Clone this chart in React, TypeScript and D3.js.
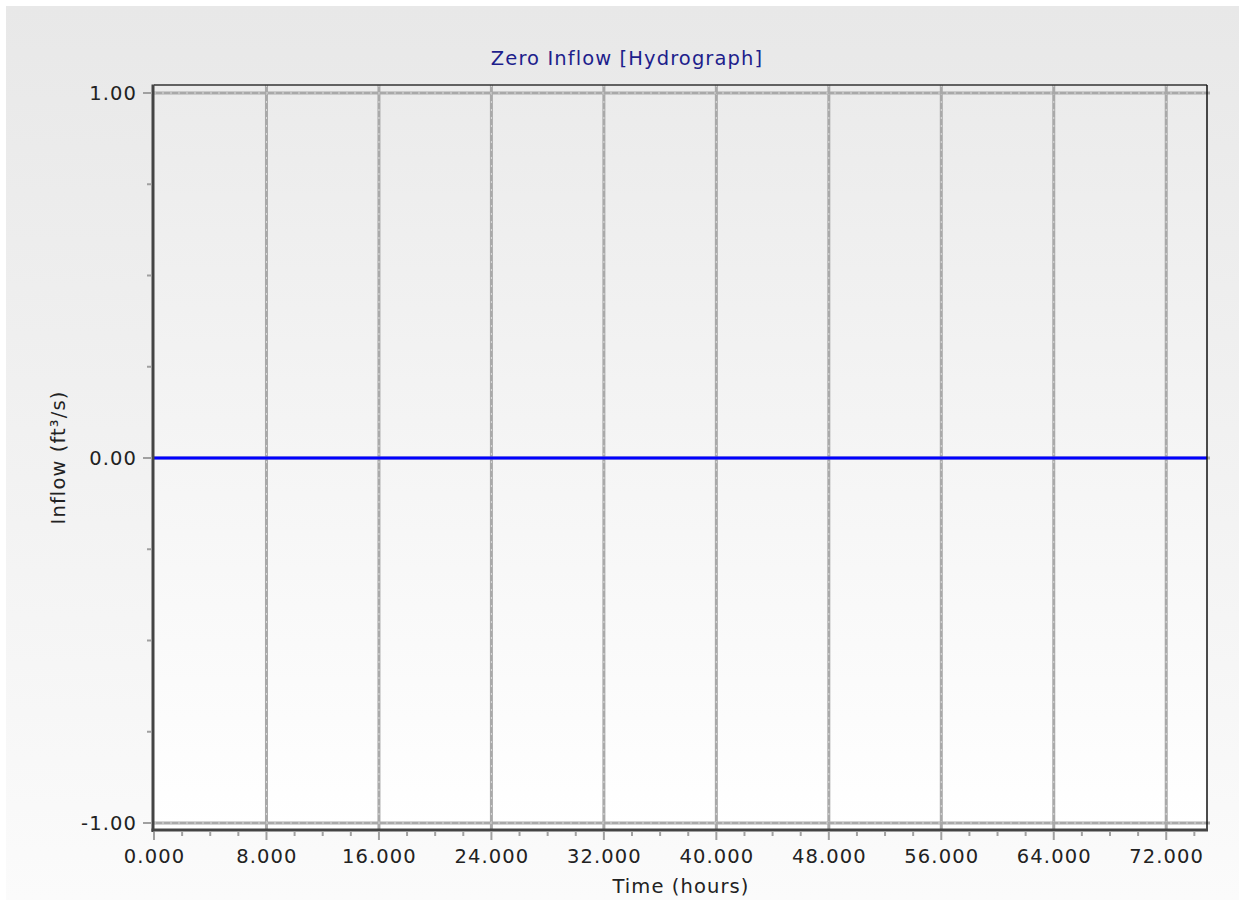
import React from "react";
import * as d3 from "d3";

const chartTitle = "Zero Inflow [Hydrograph]";
const xLabel = "Time (hours)";
const yLabel = "Inflow (ft³/s)";
const timeHours = [0, 8, 16, 24, 32, 40, 48, 56, 64, 72, 74.9];
const inflowCfs = [0, 0, 0, 0, 0, 0, 0, 0, 0, 0, 0];
const xMajorTicks = [0, 8, 16, 24, 32, 40, 48, 56, 64, 72];
const yMajorTicks = [1, 0, -1];
const xDomain = [0, 74.9];
const yDomain = [-1.0192, 1.0219];

const FONT = "Verdana, 'DejaVu Sans', sans-serif";
const FS = 19.5;

const fmtY = (v: number) => (v < 0 ? "-" : "") + Math.abs(v).toFixed(2);
const fmtX = (v: number) => v.toFixed(3);

export default function App() {
  const W = 1239, H = 900;
  const left = 154, right = 1207, top = 85, bottom = 830;
  const x = d3.scaleLinear().domain(xDomain).range([left, right]);
  const y = d3.scaleLinear().domain(yDomain).range([bottom, top]);
  const xMinor = d3.range(0, xDomain[1], 2).filter((v) => v % 8 !== 0);
  const yMinor = d3.range(-1, 1.001, 0.25).filter((v) => Math.abs(v % 1) > 1e-6);
  const line = d3
    .line<number>()
    .x((_, i) => x(timeHours[i]))
    .y((d) => y(d));
  const textStyle = { letterSpacing: "1.1px" } as React.CSSProperties;

  return (
    <svg width={W} height={H} style={{ position: "absolute", left: 0, top: 0 }} fontFamily={FONT}>
      <defs>
        <linearGradient id="bg" x1="0" y1="0" x2="0" y2="1">
          <stop offset="0" stopColor="#e8e8e8" />
          <stop offset="1" stopColor="#fbfbfb" />
        </linearGradient>
        <linearGradient id="plotbg" x1="0" y1="0" x2="0" y2="1">
          <stop offset="0" stopColor="#ebebeb" />
          <stop offset="1" stopColor="#ffffff" />
        </linearGradient>
      </defs>
      <rect x={0} y={0} width={W} height={H} fill="#ffffff" />
      <rect x={6} y={6} width={W - 6} height={H - 6} fill="url(#bg)" />
      <rect x={left} y={top} width={right - left} height={bottom - top} fill="url(#plotbg)" />

      {/* vertical gridlines */}
      {xMajorTicks.filter((t) => t > 0).map((t) => (
        <g key={"vg" + t}>
          <line x1={x(t)} x2={x(t)} y1={top} y2={bottom} stroke="#a9a9a9" strokeWidth={3} />
          <line x1={x(t)} x2={x(t)} y1={top} y2={bottom} stroke="#dadada" strokeWidth={1} strokeDasharray="2,6" />
        </g>
      ))}
      {/* horizontal gridlines */}
      {yMajorTicks.map((t) => (
        <g key={"hg" + t}>
          <line x1={left} x2={right + 3} y1={y(t)} y2={y(t)} stroke="#a9a9a9" strokeWidth={3} />
          <line x1={left} x2={right + 3} y1={y(t)} y2={y(t)} stroke="#dadada" strokeWidth={1} strokeDasharray="2,6" />
        </g>
      ))}

      {/* series */}
      <path d={line(inflowCfs) || ""} fill="none" stroke="#0000ff" strokeWidth={3.2} />

      {/* frame */}
      <line x1={left} x2={right} y1={top} y2={top} stroke="#333" strokeWidth={1.5} />
      <line x1={right} x2={right} y1={top} y2={bottom} stroke="#111" strokeWidth={1.5} />
      <line x1={left - 1} x2={left - 1} y1={top - 0.5} y2={bottom + 2} stroke="#444" strokeWidth={3} />
      <line x1={left - 2.5} x2={right + 1} y1={bottom} y2={bottom} stroke="#444" strokeWidth={3} />

      {/* y ticks */}
      {yMajorTicks.map((t) => (
        <g key={"yt" + t}>
          <line x1={left - 11} x2={left - 2} y1={y(t)} y2={y(t)} stroke="#a0a0a0" strokeWidth={2} />
          <text x={left - 17} y={y(t) + 7.5} textAnchor="end" fontSize={FS} fill="#222" style={textStyle}>
            {fmtY(t)}
          </text>
        </g>
      ))}
      {yMinor.map((t) => (
        <line key={"ym" + t} x1={left - 7} x2={left - 2} y1={y(t)} y2={y(t)} stroke="#a0a0a0" strokeWidth={2} />
      ))}

      {/* x ticks */}
      {xMajorTicks.map((t) => (
        <g key={"xt" + t}>
          <line x1={x(t)} x2={x(t)} y1={bottom + 1.5} y2={bottom + 10} stroke="#a0a0a0" strokeWidth={2} />
          <text x={x(t) + 0.5} y={863} textAnchor="middle" fontSize={FS} fill="#222" style={textStyle}>
            {fmtX(t)}
          </text>
        </g>
      ))}
      {xMinor.map((t) => (
        <line key={"xm" + t} x1={x(t)} x2={x(t)} y1={bottom + 1.5} y2={bottom + 6} stroke="#a0a0a0" strokeWidth={2} />
      ))}

      {/* titles */}
      <text x={627} y={65} textAnchor="middle" fontSize={FS} fill="#1e1e8c" style={textStyle}>
        {chartTitle}
      </text>
      <text x={(left + right) / 2 + 0.5} y={893} textAnchor="middle" fontSize={FS} fill="#222" style={textStyle}>
        {xLabel}
      </text>
      <text
        transform={`translate(65,${(top + bottom) / 2}) rotate(-90)`}
        textAnchor="middle"
        fontSize={FS}
        fill="#222"
        style={textStyle}
      >
        {yLabel}
      </text>
    </svg>
  );
}
